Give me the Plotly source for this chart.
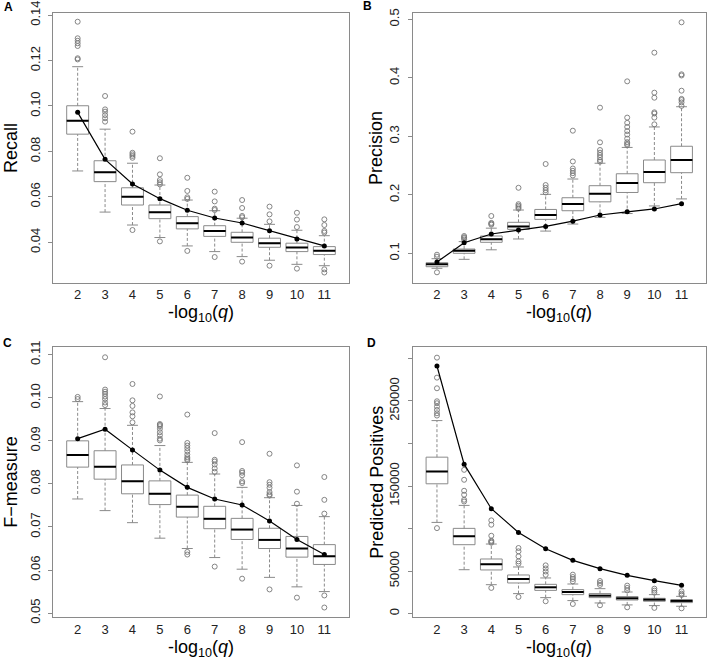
import plotly.graph_objects as go

# -log10(q) thresholds shared by all four panels
qs = [2, 3, 4, 5, 6, 7, 8, 9, 10, 11]

# A: recall
recall_lo = [0.0714, 0.0533, 0.0476, 0.0421, 0.0384, 0.0359, 0.0337, 0.0321, 0.0303, 0.0297]
recall_q1 = [0.0876, 0.0667, 0.0564, 0.0504, 0.0459, 0.0426, 0.0400, 0.0378, 0.0359, 0.0346]
recall_med = [0.0935, 0.0708, 0.0601, 0.0532, 0.0484, 0.0450, 0.0421, 0.0396, 0.0377, 0.0363]
recall_q3 = [0.1001, 0.0759, 0.0640, 0.0564, 0.0513, 0.0473, 0.0444, 0.0418, 0.0396, 0.0381]
recall_hi = [0.1173, 0.0898, 0.0748, 0.0652, 0.0586, 0.0539, 0.0506, 0.0479, 0.0453, 0.0429]
recall_out = [
    [0.1371, 0.1298, 0.1287, 0.1276, 0.1264, 0.1210, 0.1205],
    [0.1044, 0.0985, 0.0975, 0.0960, 0.0946, 0.0931],
    [0.0887, 0.0794, 0.0787, 0.0780, 0.0772, 0.0454],
    [0.0770, 0.0699, 0.0674, 0.0664, 0.0655, 0.0404],
    [0.0684, 0.0626, 0.0598, 0.0591, 0.0362],
    [0.0623, 0.0580, 0.0548, 0.0542, 0.0335],
    [0.0586, 0.0551, 0.0516, 0.0510, 0.0315],
    [0.0557, 0.0523, 0.0492, 0.0297],
    [0.0530, 0.0500, 0.0467, 0.0284],
    [0.0501, 0.0476, 0.0450, 0.0443, 0.0281, 0.0267],
]
recall_line = [0.0972, 0.0765, 0.0657, 0.0592, 0.0541, 0.0507, 0.0485, 0.0451, 0.0415, 0.0384]

# B: precision
precision_lo = [0.0744, 0.0897, 0.106, 0.1245, 0.138, 0.150, 0.1615, 0.168, 0.181, 0.193]
precision_q1 = [0.0771, 0.1000, 0.1188, 0.141, 0.158, 0.1728, 0.188, 0.204, 0.2207, 0.2378]
precision_med = [0.0812, 0.1045, 0.124, 0.146, 0.1655, 0.1843, 0.202, 0.220, 0.239, 0.2595]
precision_q3 = [0.0839, 0.1073, 0.1296, 0.153, 0.175, 0.195, 0.2156, 0.236, 0.2595, 0.283]
precision_hi = [0.0908, 0.120, 0.143, 0.174, 0.2008, 0.227, 0.254, 0.281, 0.316, 0.3506]
precision_out = [
    [0.0976, 0.0942, 0.0675],
    [0.1296, 0.1275, 0.126, 0.1235],
    [0.1638, 0.152, 0.1505, 0.149],
    [0.212, 0.184, 0.1815, 0.179, 0.1765],
    [0.2527, 0.2167, 0.212, 0.208, 0.204],
    [0.3096, 0.257, 0.245, 0.241, 0.237, 0.233],
    [0.349, 0.2897, 0.2766, 0.272, 0.268, 0.264, 0.2595, 0.2567],
    [0.394, 0.332, 0.323, 0.316, 0.309, 0.303, 0.296, 0.290, 0.287, 0.285],
    [0.443, 0.3746, 0.366, 0.341, 0.339, 0.332, 0.3205],
    [0.4949, 0.406, 0.404, 0.378, 0.364, 0.362, 0.358, 0.352],
]
precision_line = [0.0851, 0.118, 0.133, 0.140, 0.146, 0.155, 0.1655, 0.171, 0.1758, 0.1848]

# C: F-measure
fmeasure_lo = [0.0765, 0.0738, 0.0710, 0.0674, 0.0650, 0.0629, 0.0602, 0.0583, 0.0561, 0.0550]
fmeasure_q1 = [0.0839, 0.0811, 0.0777, 0.0752, 0.0723, 0.0696, 0.0671, 0.0650, 0.0630, 0.0613]
fmeasure_med = [0.0867, 0.0840, 0.0806, 0.0777, 0.0747, 0.0719, 0.0694, 0.0670, 0.0650, 0.0632]
fmeasure_q3 = [0.0900, 0.0877, 0.0844, 0.0807, 0.0774, 0.0748, 0.0720, 0.0697, 0.0678, 0.0659]
fmeasure_hi = [0.0991, 0.0975, 0.0936, 0.0889, 0.0850, 0.0823, 0.0792, 0.0768, 0.0750, 0.0724]
fmeasure_out = [
    [0.1002, 0.0997],
    [0.1094, 0.1019, 0.1014, 0.1009, 0.1003, 0.0997, 0.0989, 0.0983],
    [0.1032, 0.0994, 0.0981, 0.0966, 0.0957, 0.0943],
    [0.1003, 0.0939, 0.0937, 0.0934, 0.0928, 0.0920, 0.0913, 0.0905, 0.0901],
    [0.0961, 0.0895, 0.0889, 0.0883, 0.0876, 0.0868, 0.0862, 0.0858, 0.0855, 0.0642, 0.0636],
    [0.0918, 0.0856, 0.0852, 0.0845, 0.0836, 0.0828, 0.0608],
    [0.0897, 0.0830, 0.0826, 0.0820, 0.0806, 0.0802, 0.0580],
    [0.0870, 0.0804, 0.0798, 0.0791, 0.0781, 0.0776, 0.0773, 0.0555],
    [0.0843, 0.0782, 0.0754, 0.0536],
    [0.0816, 0.0763, 0.0731, 0.0541, 0.0513],
]
fmeasure_line = [0.0905, 0.0927, 0.0879, 0.0832, 0.0792, 0.0765, 0.0751, 0.0714, 0.0671, 0.0636]

# D: predicted positives
pos_lo = [107200, 51600, 34000, 23500, 18800, 15300, 12500, 10200, 9400, 8600]
pos_q1 = [152600, 81000, 51300, 36000, 27300, 22300, 18800, 16000, 14500, 12900]
pos_med = [167100, 90800, 57900, 40700, 30900, 25400, 21100, 18000, 16400, 14900]
pos_q3 = [183900, 100200, 64200, 45400, 34400, 28200, 23500, 20000, 18000, 16400]
pos_hi = [226900, 127200, 81800, 54800, 41900, 34800, 29300, 25400, 22300, 20300]
pos_out = [
    [300900, 277400, 264900, 249600, 247300, 243300, 239400, 235500, 232800, 100500],
    [169000, 157300, 144400, 139700, 133800, 131800],
    [109600, 104500, 91500, 85700, 84500, 83300, 30200],
    [77100, 73200, 67300, 61400, 58700, 19600],
    [56700, 53100, 49500, 45600, 14500],
    [45800, 43000, 40700, 37900, 11300],
    [38300, 36000, 33700, 9800],
    [32900, 30200, 27300, 7400],
    [29300, 27000, 24600, 6700],
    [26200, 23500, 21900, 6200],
]
pos_line = [291100, 175700, 123300, 95400, 76300, 62600, 52800, 45000, 38700, 33200]

W, H = 709, 660
FONT = 'Liberation Sans, Arial, sans-serif'
GRAY = '#8a8a8a'
BOX_W = 0.8


def px_x(p):
    return p / W


def px_y(p):
    return 1 - p / H


def add_panel(fig, n, lo, q1, med, q3, hi, outliers, line):
    xa = 'x' if n == 1 else f'x{n}'
    ya = 'y' if n == 1 else f'y{n}'
    fig.add_trace(go.Box(x=qs, q1=q1, median=med, q3=q3, lowerfence=q1, upperfence=q3,
                         width=BOX_W, whiskerwidth=0, fillcolor='white', boxpoints=False,
                         line=dict(color=GRAY, width=1), xaxis=xa, yaxis=ya, hoverinfo='skip'))
    # dashed whiskers
    wx, wy = [], []
    for q, a, b, c, d in zip(qs, lo, q1, q3, hi):
        wx += [q, q, None, q, q, None]
        wy += [a, b, None, c, d, None]
    fig.add_trace(go.Scatter(x=wx, y=wy, mode='lines', xaxis=xa, yaxis=ya,
                             line=dict(color=GRAY, width=1, dash='3px,2px')))
    # staples
    sx, sy = [], []
    for q, a, d in zip(qs, lo, hi):
        sx += [q - BOX_W / 4, q + BOX_W / 4, None, q - BOX_W / 4, q + BOX_W / 4, None]
        sy += [a, a, None, d, d, None]
    fig.add_trace(go.Scatter(x=sx, y=sy, mode='lines', xaxis=xa, yaxis=ya,
                             line=dict(color=GRAY, width=1)))
    # medians
    mx, my = [], []
    for q, m in zip(qs, med):
        mx += [q - BOX_W / 2, q + BOX_W / 2, None]
        my += [m, m, None]
    fig.add_trace(go.Scatter(x=mx, y=my, mode='lines', xaxis=xa, yaxis=ya,
                             line=dict(color='black', width=2)))
    # outliers
    ox, oy = [], []
    for q, vals in zip(qs, outliers):
        ox += [q] * len(vals)
        oy += vals
    fig.add_trace(go.Scatter(x=ox, y=oy, mode='markers', xaxis=xa, yaxis=ya,
                             marker=dict(symbol='circle-open', size=5, color='#777777',
                                         line=dict(width=0.9))))
    fig.add_trace(go.Scatter(x=qs, y=line, mode='lines+markers', xaxis=xa, yaxis=ya,
                             line=dict(color='black', width=1.2),
                             marker=dict(color='black', size=5)))


fig = go.Figure()
add_panel(fig, 1, recall_lo, recall_q1, recall_med, recall_q3, recall_hi, recall_out, recall_line)
add_panel(fig, 2, precision_lo, precision_q1, precision_med, precision_q3, precision_hi,
          precision_out, precision_line)
add_panel(fig, 3, fmeasure_lo, fmeasure_q1, fmeasure_med, fmeasure_q3, fmeasure_hi,
          fmeasure_out, fmeasure_line)
add_panel(fig, 4, pos_lo, pos_q1, pos_med, pos_q3, pos_hi, pos_out, pos_line)

# panel frames in pixels: (left, right, top, bottom)
frames = {
    1: (53, 349, 13.3, 282.5),
    2: (412.5, 706, 13.3, 282.5),
    3: (53, 349, 346.5, 617),
    4: (412.5, 706, 346.5, 617),
}
y_ranges = {1: [0.0223, 0.1408], 2: [0.0501, 0.5103], 3: [0.0491, 0.1119], 4: [-4000, 314000]}
y_ticks = {
    1: ([0.04, 0.06, 0.08, 0.10, 0.12, 0.14], ['0.04', '0.06', '0.08', '0.10', '0.12', '0.14']),
    2: ([0.1, 0.2, 0.3, 0.4, 0.5], ['0.1', '0.2', '0.3', '0.4', '0.5']),
    3: ([0.05, 0.06, 0.07, 0.08, 0.09, 0.10, 0.11],
        ['0.05', '0.06', '0.07', '0.08', '0.09', '0.10', '0.11']),
    4: ([0, 50000, 150000, 250000], ['0', '50000', '150000', '250000']),
}
y_titles = {1: 'Recall', 2: 'Precision', 3: 'F\u2212measure', 4: 'Predicted Positives'}
y_title_x = {1: 11, 2: 376, 3: 11, 4: 377}
letters = {1: ('A', 8, 7.5), 2: ('B', 367, 6), 3: ('C', 7.5, 343), 4: ('D', 371, 343)}

annotations = []
for n, (l, r, t, b) in frames.items():
    sfx = '' if n == 1 else str(n)
    fig.layout[f'xaxis{sfx}'] = dict(
        domain=[px_x(l), px_x(r)], anchor=f'y{sfx}', range=[1.1, 11.9], automargin=False,
        tickvals=qs, ticks='', showgrid=False, zeroline=False, ticklabeloverflow='allow',
        showline=True, mirror=True, linecolor=GRAY, linewidth=1,
        tickfont=dict(size=13, color='#222222', family=FONT))
    yaxis = dict(
        domain=[px_y(b), px_y(t)], anchor=f'x{sfx}', range=y_ranges[n], automargin=False,
        tickvals=y_ticks[n][0], ticktext=y_ticks[n][1], tickangle=-90,
        ticklabeloverflow='allow', ticklabelstandoff=3,
        ticks='outside', ticklen=4, tickcolor=GRAY, showgrid=False, zeroline=False,
        showline=True, mirror=True, linecolor=GRAY, linewidth=1,
        tickfont=dict(size=13, color='#222222', family=FONT))
    if n == 4:
        # unlabelled ticks at 100000, 200000, 300000
        yaxis['minor'] = dict(tick0=0, dtick=50000, ticks='outside', ticklen=4,
                              tickcolor=GRAY, showgrid=False)
    fig.layout[f'yaxis{sfx}'] = yaxis
    annotations.append(dict(text=y_titles[n], textangle=-90, xref='paper', yref='paper',
                            x=px_x(y_title_x[n]), y=px_y((t + b) / 2), showarrow=False,
                            xanchor='center', yanchor='middle',
                            font=dict(size=18, color='black', family=FONT)))
    annotations.append(dict(text='-log<sub>10</sub>(<i>q</i>)', xref='paper', yref='paper',
                            x=px_x((l + r) / 2), y=px_y(b + 31), showarrow=False,
                            xanchor='center', yanchor='middle',
                            font=dict(size=18, color='black', family=FONT)))
    txt, lx, ly = letters[n]
    annotations.append(dict(text=f'<b>{txt}</b>', xref='paper', yref='paper',
                            x=px_x(lx), y=px_y(ly), showarrow=False,
                            xanchor='center', yanchor='middle',
                            font=dict(size=12, color='black', family=FONT)))

fig.update_layout(
    width=W, height=H, autosize=False,
    margin=dict(l=0, r=0, t=0, b=0, autoexpand=False),
    paper_bgcolor='white', plot_bgcolor='white',
    showlegend=False, annotations=annotations,
    font=dict(family=FONT),
)

# drop the page's default 8px body margin so the figure sits at the window's corner
fig.write_html("out.html", config={'displayModeBar': False},
               post_script="document.body.style.margin = '0';")
